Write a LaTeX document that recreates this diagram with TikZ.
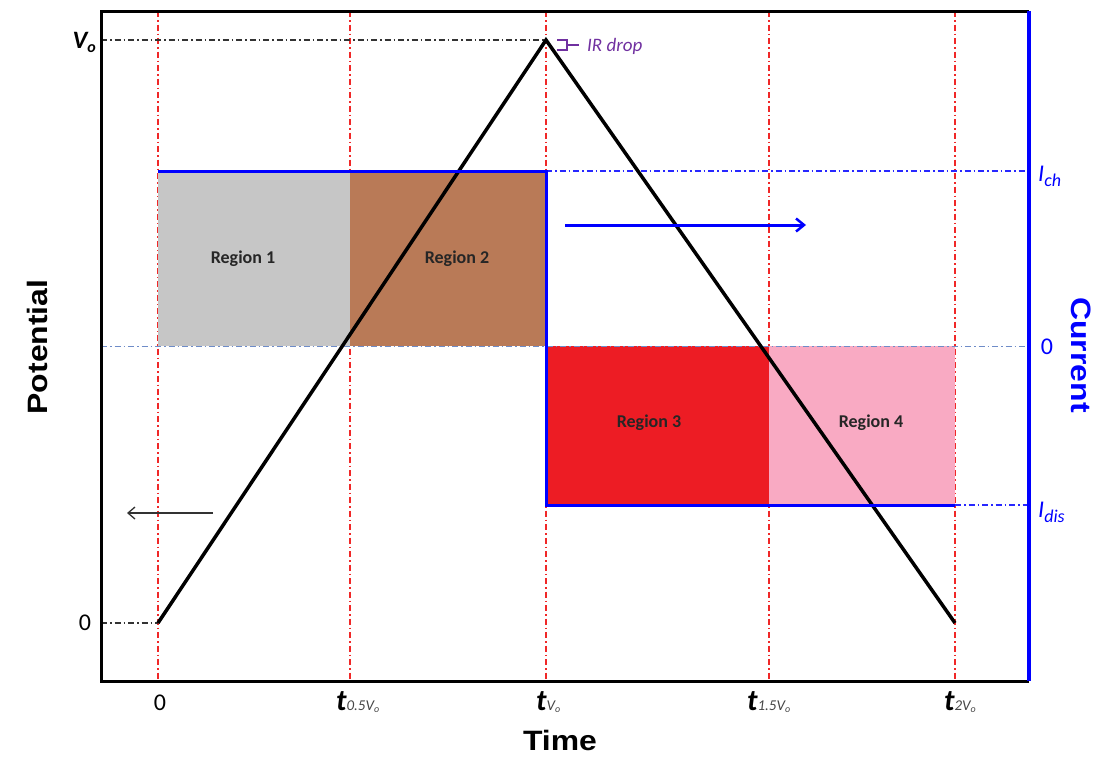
\documentclass[tikz,border=0pt]{standalone}
\usepackage{fontspec}
\setmainfont{Carlito}
\newfontfamily\heavyfont{Liberation Sans}
\usetikzlibrary{arrows.meta}
\definecolor{rgray}{RGB}{198,198,198}
\definecolor{rbrown}{RGB}{185,122,87}
\definecolor{rred}{RGB}{237,28,36}
\definecolor{rpink}{RGB}{249,170,195}
\definecolor{irpurple}{RGB}{112,48,160}
\definecolor{zeroline}{RGB}{110,140,200}
\definecolor{guidered}{RGB}{240,40,40}
\definecolor{subgray}{RGB}{70,70,70}
\definecolor{guideblue}{RGB}{40,40,255}
\newcommand{\tlabel}[1]{{\fontsize{30}{30}\selectfont\bfseries\itshape t}{\fontsize{15}{15}\selectfont\itshape\color{subgray}#1V\raisebox{-2.5pt}{\fontsize{10}{10}\selectfont o}}}
\tikzset{
  framebk/.style={line width=3pt, black},
  framebl/.style={line width=3.2pt, blue},
  cur/.style={line width=3pt, blue},
  pot/.style={line width=3.5pt, black, line join=miter},
  vguide/.style={guidered, line width=1.1pt, dash pattern=on 6pt off 3pt on 1.5pt off 3pt},
  kguide/.style={black!80, line width=1.1pt, dash pattern=on 6pt off 3pt on 1.5pt off 3pt},
  bguide/.style={guideblue, line width=1.3pt, dash pattern=on 6pt off 3pt on 1.5pt off 3pt},
  zguide/.style={zeroline, line width=1pt, dash pattern=on 6pt off 3pt on 1.5pt off 3pt},
  reglab/.style={font=\fontsize{18}{18}\selectfont\bfseries, text=black!85},
  ticklab/.style={anchor=base west, inner sep=0pt},
  axlab/.style={font=\heavyfont\fontsize{28}{28}\selectfont\bfseries, inner sep=0pt},
  curlab/.style={text=blue, font=\fontsize{24}{24}\selectfont\itshape, inner sep=0pt},
}
\begin{document}
\begin{tikzpicture}[x=1pt, y=-1pt]
\useasboundingbox (0,0) rectangle (1107,774);
% key coordinates
\coordinate (TL) at (101,11);
\coordinate (TR) at (1029,11);
\coordinate (BL) at (101,681);
\coordinate (BR) at (1029,681);
\coordinate (p0) at (158,623);
\coordinate (pk) at (546,40);
\coordinate (pe) at (955,623);
\coordinate (c1) at (158,171);
\coordinate (c2) at (546,171);
\coordinate (c3) at (546,505);
\coordinate (c4) at (955,505);
% vertical red guides
\foreach \x/\n in {158/g0,350/g1,546/g2,769/g3,955/g4}{
  \coordinate (\n t) at (\x,11);
  \coordinate (\n b) at (\x,681);
  \draw[vguide] (\n t) -- (\n b);
}
% horizontal guides
\coordinate (vl) at (101,40);
\coordinate (zl) at (101,623);
\draw[kguide] (vl) -- (pk);
\draw[kguide] (zl) -- (p0);
\coordinate (ichR) at (1029,171);
\coordinate (zeroL) at (101,346);
\coordinate (zeroR) at (1029,346);
\coordinate (idisR) at (1029,505);
% regions
\fill[rgray] (158,171) rectangle (350,346);
\fill[rbrown] (350,171) rectangle (546,346);
\fill[rred] (546,346) rectangle (769,505);
\fill[rpink] (769,346) rectangle (955,505);
\draw[bguide] (c2) -- (ichR);
\draw[zguide] (zeroL) -- (zeroR);
\draw[bguide] (c4) -- (idisR);
\node[reglab] (r1) at (243,259) {Region 1};
\node[reglab] (r2) at (457,259) {Region 2};
\node[reglab] (r3) at (649,423) {Region 3};
\node[reglab] (r4) at (871,423) {Region 4};
% potential triangle
\draw[pot] (p0) -- (pk) -- (pe);
% current
\draw[cur, line join=miter] (c1) -- (c2) -- (c3) -- (c4);
% arrows
\coordinate (ba1) at (565,225);
\coordinate (ba2) at (806,225);
\draw[blue, line width=3pt, -{Straight Barb[length=8pt,width=13pt,line width=2.5pt]}] (ba1) -- (ba2);
\coordinate (ka1) at (213,513);
\coordinate (ka2) at (127,513);
\draw[black!80, line width=1.4pt, -{Straight Barb[length=7pt,width=12pt,line width=1.3pt]}] (ka1) -- (ka2);
% frame
\draw[framebk] (TR) -- (TL) -- (BL) -- (BR);
\draw[framebl] (TR) -- (BR);
% IR drop
\coordinate (ir1) at (557,40);
\coordinate (ir2) at (567,40);
\coordinate (ir3) at (567,50);
\coordinate (ir4) at (557,50);
\coordinate (ir5) at (567,45);
\coordinate (ir6) at (579,45);
\draw[irpurple, line width=1.2pt] (ir1) -- (ir2) -- (ir3) -- (ir4);
\draw[irpurple, line width=1.2pt] (ir5) -- (ir6);
\node[text=irpurple, font=\fontsize{19}{19}\selectfont\itshape, anchor=west, inner sep=0pt] (ird) at (587,46) {IR drop};
% left axis labels
\node[font=\fontsize{25}{25}\selectfont\itshape, anchor=east, inner sep=0pt] (vo) at (96,42) {\textbf{V}\raisebox{-4pt}{\fontsize{16}{16}\selectfont\bfseries o}};
\node[font=\fontsize{24}{24}\selectfont, inner sep=0pt] (lz) at (85,623) {0};
% bottom tick labels
\node[font=\fontsize{24}{24}\selectfont, inner sep=0pt] (t0) at (160,703) {0};
\node[ticklab] (t1) at (336,710) {\tlabel{0.5}};
\node[ticklab] (t2) at (536,710) {\tlabel{}};
\node[ticklab] (t3) at (747,710) {\tlabel{1.5}};
\node[ticklab] (t4) at (944,710) {\tlabel{2}};
% right labels
\node[curlab, anchor=west] (ich) at (1038,176) {I\raisebox{-5pt}{\fontsize{18}{18}\selectfont ch}};
\node[text=blue, font=\fontsize{24}{24}\selectfont, inner sep=0pt] (rz) at (1047,347) {0};
\node[curlab, anchor=west] (idis) at (1038,512) {I\raisebox{-5pt}{\fontsize{18}{18}\selectfont dis}};
% axis titles
\node[axlab, rotate=90] (pot) at (37,347) {\scalebox{1.14}[1]{Potential}};
\node[axlab] (time) at (560,740) {\scalebox{1.14}[1]{Time}};
\node[axlab, rotate=-90, text=blue] (curr) at (1081,355) {\scalebox{1.14}[1]{Current}};
\end{tikzpicture}
\end{document}
